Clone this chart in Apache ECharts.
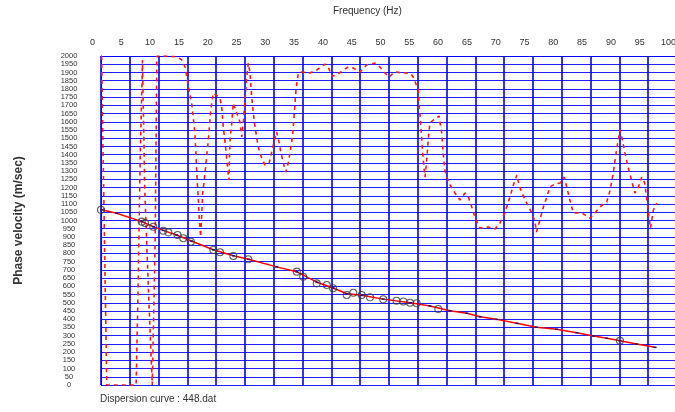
<!DOCTYPE html>
<html>
<head>
<meta charset="utf-8">
<title>Dispersion curve : 448.dat</title>
<script src="https://cdn.jsdelivr.net/npm/echarts@6/dist/echarts.min.js"></script>
<style>
  html, body { margin: 0; padding: 0; background: #ffffff; }
  #chart { width: 675px; height: 412px; }
</style>
</head>
<body>
<div id="chart"></div>
<script>
// Frequency / phase-velocity search trace (red dashed)
const searchFreq = [0.1, 1.0, 6.1, 6.4, 6.8, 7.2, 7.6, 8.2, 8.9, 9.4, 9.7, 11.3, 13.2, 14.0, 14.6, 15.1, 15.75, 16.3, 16.5, 16.7, 16.9, 17.07, 17.3,
  17.66, 18.06, 18.63, 19.05, 19.5, 20.66, 20.95, 21.23, 21.5, 21.8, 22.2, 22.4, 22.7, 22.97, 23.56, 24.13, 24.43, 24.7, 25.0, 25.3, 25.57,
  25.87, 26.16, 26.44, 26.74, 27.3, 27.9, 28.47, 29.2, 29.6, 30.1, 30.5, 30.9, 31.25, 31.65, 32.07, 32.5, 32.9, 33.3, 33.56, 33.85, 34.25,
  34.84, 36.3, 37.45, 38.9, 39.46, 40.05, 40.9, 42.07, 42.93, 43.8, 44.97, 46.1, 47.57, 48.44, 49.3, 50.05, 50.75, 51.3, 52.2, 53.65, 54.2,
  55.1, 55.26, 55.5, 55.68, 55.95, 56.25, 56.55, 56.8, 57.1, 57.7, 58.7, 59.15, 59.4, 59.7, 60.0, 60.6, 61.46, 62.33, 63.2, 63.77, 64.36,
  64.9, 65.8, 67.2, 68.4, 69.27, 70.1, 71.0, 71.7, 72.2, 72.45, 73.0, 73.9, 74.8, 75.35, 75.6, 76.2, 76.8, 77.4, 77.95, 78.8, 79.7, 80.4,
  80.85, 81.4, 82.0, 83.45, 84.9, 85.76, 86.6, 87.8, 88.4, 88.94, 89.5, 90.1, 90.4, 90.97, 91.5, 92.1, 92.7, 93.3, 93.87, 94.4, 94.84,
  95.2, 95.4, 95.9, 96.5];
const searchVel = [2000, 0, 0, 517, 1370, 1975, 1185, 608, 0, 880, 2000, 2000, 1995, 1976, 1933, 1830, 1708, 1532, 1386, 1246, 1125, 1003, 900,
  1167, 1289, 1489, 1672, 1775, 1745, 1690, 1568, 1489, 1386, 1246, 1489, 1593, 1714, 1653, 1599, 1508, 1593, 1733, 1872, 1957,
  1897, 1751, 1653, 1568, 1447, 1380, 1337, 1350, 1410, 1489, 1538, 1477, 1410, 1350, 1295, 1350, 1429, 1532, 1653, 1793, 1897,
  1903, 1897, 1915, 1951, 1933, 1878, 1884, 1915, 1933, 1927, 1903, 1945, 1957, 1933, 1897, 1872, 1897, 1903, 1897, 1897, 1872,
  1793, 1690, 1593, 1489, 1368, 1264, 1368, 1489, 1593, 1611, 1635, 1532, 1410, 1307, 1264, 1216, 1167, 1125, 1167, 1143, 1082,
  1021, 954, 960, 948, 985, 1046, 1143, 1228, 1277, 1234, 1173, 1106, 1046, 991, 930, 1003, 1082, 1143, 1204, 1222, 1228, 1264,
  1204, 1125, 1046, 1046, 1015, 1046, 1082, 1112, 1185, 1289, 1429, 1550, 1508, 1410, 1325, 1246, 1167, 1204, 1264, 1228, 1106,
  1003, 954, 1064, 1106];

// Fitted dispersion curve (red solid)
const curveFreq = [0.1, 2.7, 7.1, 9.1, 10.8, 13.1, 15.7, 19.5, 23.0, 25.6, 30.5, 34.0, 37.5, 40.3, 42.7, 45.3, 49.0, 53.7, 57.1, 60.6,
  63.5, 65.8, 68.7, 72.2, 75.6, 79.1, 82.6, 85.5, 87.8, 90.1, 93.0, 96.2];
const curveVel = [1065, 1044, 993, 962, 940, 912, 875, 822, 786, 764, 718, 688, 625, 590, 555, 545, 522, 500, 480, 452,
  436, 415, 399, 375, 351, 339, 318, 298, 284, 269, 249, 229];

// Picked dispersion points (open circles)
const pickFreq = [0.0, 7.07, 7.64, 9.08, 10.8, 11.7, 13.3, 14.3, 15.6, 19.5, 20.66, 22.97, 25.57, 34.0, 35.1, 37.45, 39.2, 40.3,
  42.66, 43.8, 45.26, 46.7, 49.0, 51.3, 52.5, 53.65, 54.8, 58.56, 90.1];
const pickVel = [1065, 993, 985, 962, 938, 928, 912, 892, 871, 821, 807, 784, 764, 689, 658, 618, 608, 588,
  547, 561, 547, 533, 521, 512, 508, 500, 497, 462, 269];

const zip = (xs, ys) => xs.map((x, i) => [x, ys[i]]);

const FONT = 'Liberation Sans, Arial, sans-serif';
const GRID_BLUE = '#0000ff';

const chart = echarts.init(document.getElementById('chart'), null, { renderer: 'canvas' });

chart.setOption({
  animation: false,
  backgroundColor: '#ffffff',
  grid: { left: 101, top: 56, width: 576, height: 329, containLabel: false, outerBoundsMode: 'none' },
  graphic: [
    {
      type: 'text', left: 333, top: 6,
      style: { text: 'Frequency (Hz)', font: '10px ' + FONT, fill: '#333333' }
    },
    {
      type: 'text', left: 100, top: 394,
      style: { text: 'Dispersion curve : 448.dat', font: '10px ' + FONT, fill: '#333333' }
    }
  ],
  xAxis: {
    type: 'value',
    position: 'top',
    min: 0, max: 100, interval: 5,
    axisLine: { show: true, onZero: false, lineStyle: { color: GRID_BLUE, width: 1 } },
    axisTick: { show: false },
    axisLabel: {
      show: true, color: '#333333', fontSize: 9, fontFamily: FONT,
      margin: 9, padding: [0, 17, 0, 0],
      formatter: (v) => String(v)
    },
    splitLine: { show: true, lineStyle: { color: GRID_BLUE, width: 1.6 } }
  },
  yAxis: {
    type: 'value',
    min: 0, max: 2000, interval: 50,
    name: 'Phase velocity (m/sec)',
    nameLocation: 'middle',
    nameRotate: 90,
    nameGap: 76,
    nameTextStyle: { color: '#333333', fontSize: 12, fontWeight: 'bold', fontFamily: FONT },
    axisLine: { show: true, onZero: false, lineStyle: { color: GRID_BLUE, width: 1 } },
    axisTick: { show: false },
    axisLabel: {
      show: true, color: '#333333', fontSize: 7.5, fontFamily: FONT,
      align: 'center', margin: 32, padding: [0, 0, 3, 0],
      formatter: (v) => String(v)
    },
    splitLine: { show: true, lineStyle: { color: '#1f1fff', width: 1 } }
  },
  series: [
    {
      name: 'search',
      type: 'line',
      data: zip(searchFreq, searchVel),
      showSymbol: false,
      symbol: 'none',
      lineStyle: { color: '#ff1a1a', width: 1.6, type: [4, 4] },
      z: 3
    },
    {
      name: 'curve',
      type: 'line',
      data: zip(curveFreq, curveVel),
      symbol: 'rect',
      symbolSize: [3, 1.5],
      itemStyle: { color: '#1a1a66' },
      lineStyle: { color: '#ff0000', width: 1.5 },
      z: 4
    },
    {
      name: 'picks',
      type: 'scatter',
      data: zip(pickFreq, pickVel),
      symbol: 'circle',
      symbolSize: 7,
      itemStyle: { color: 'rgba(255,255,255,0)', borderColor: '#3a3a3a', borderWidth: 1.1 },
      z: 5
    }
  ]
});
</script>
</body>
</html>
